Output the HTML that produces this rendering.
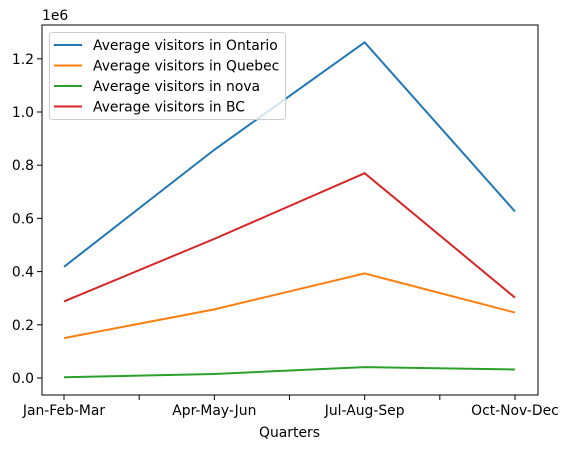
<!DOCTYPE html>
<html><head><meta charset="utf-8"><style>
body{margin:0;background:#fff;}
svg text{font-family:"DejaVu Sans","Liberation Sans",sans-serif;font-size:13.9px;fill:#000;}
</style></head><body>
<svg width="568" height="448" id="chart">
<rect x="0" y="0" width="568" height="448" fill="#fff"/>
<g id="plot"></g>
<text x="42" y="20">1e6</text>
<text x="289.5" y="437" text-anchor="middle">Quarters</text>
<rect x="42" y="25" width="496" height="370" fill="none" stroke="#000" stroke-width="1"/>
<g>
<rect x="49.5" y="32.5" width="236" height="87" rx="3" fill="#fff" fill-opacity="0.8" stroke="#ccc"/>
<g id="legend-items"></g>
</g>
</svg>
<script>
const categories=["Jan-Feb-Mar","Apr-May-Jun","Jul-Aug-Sep","Oct-Nov-Dec"];
const seriesNames=["Average visitors in Ontario","Average visitors in Quebec","Average visitors in nova","Average visitors in BC"];
const ontario=[418000,858000,1262000,626000];
const quebec=[150000,258000,393000,246000];
const nova=[3000,15000,41000,32000];
const bc=[288000,523000,770000,302000];
const yTicks=[0,0.2,0.4,0.6,0.8,1.0,1.2];
const yTickLabels=["0.0","0.2","0.4","0.6","0.8","1.0","1.2"];
const colors=["#1f77b4","#ff7f0e","#2ca02c","#d62728"];
const NS="http://www.w3.org/2000/svg";
function xPix(i){return 64+i*150.33;}
function yPix(v){return 378-v/1e6*266;}
const plot=document.getElementById('plot');
function mk(tag,attrs,parent){const e=document.createElementNS(NS,tag);for(const k in attrs)e.setAttribute(k,attrs[k]);parent.appendChild(e);return e;}
yTicks.forEach((t,i)=>{const y=yPix(t*1e6);
const l=mk('line',{x1:37,x2:42,y1:y,y2:y,stroke:'#000'},plot);


const tx=mk('text',{x:34,y:y+5,'text-anchor':'end'},plot);tx.textContent=yTickLabels[i];


});
for(let k=0;k<=6;k++){const x=xPix(k/2);
const l=mk('line',{x1:x,x2:x,y1:395,y2:400,stroke:'#000'},plot);


}
categories.forEach((c,i)=>{const tx=mk('text',{x:xPix(i),y:415,'text-anchor':'middle'},plot);tx.textContent=c;


});
[ontario,quebec,nova,bc].forEach((s,si)=>{
const p=mk('polyline',{points:s.map((v,i)=>xPix(i)+','+yPix(v)).join(' '),fill:'none',stroke:colors[si],'stroke-width':2},plot);


});
const lg=document.getElementById('legend-items');
seriesNames.forEach((n,i)=>{const y=45+i*20.5;
mk('line',{x1:54,x2:82,y1:y,y2:y,stroke:colors[i],'stroke-width':2},lg);
const tx=mk('text',{x:93,y:y+5},lg);tx.textContent=n;


});
</script>
</body></html>
